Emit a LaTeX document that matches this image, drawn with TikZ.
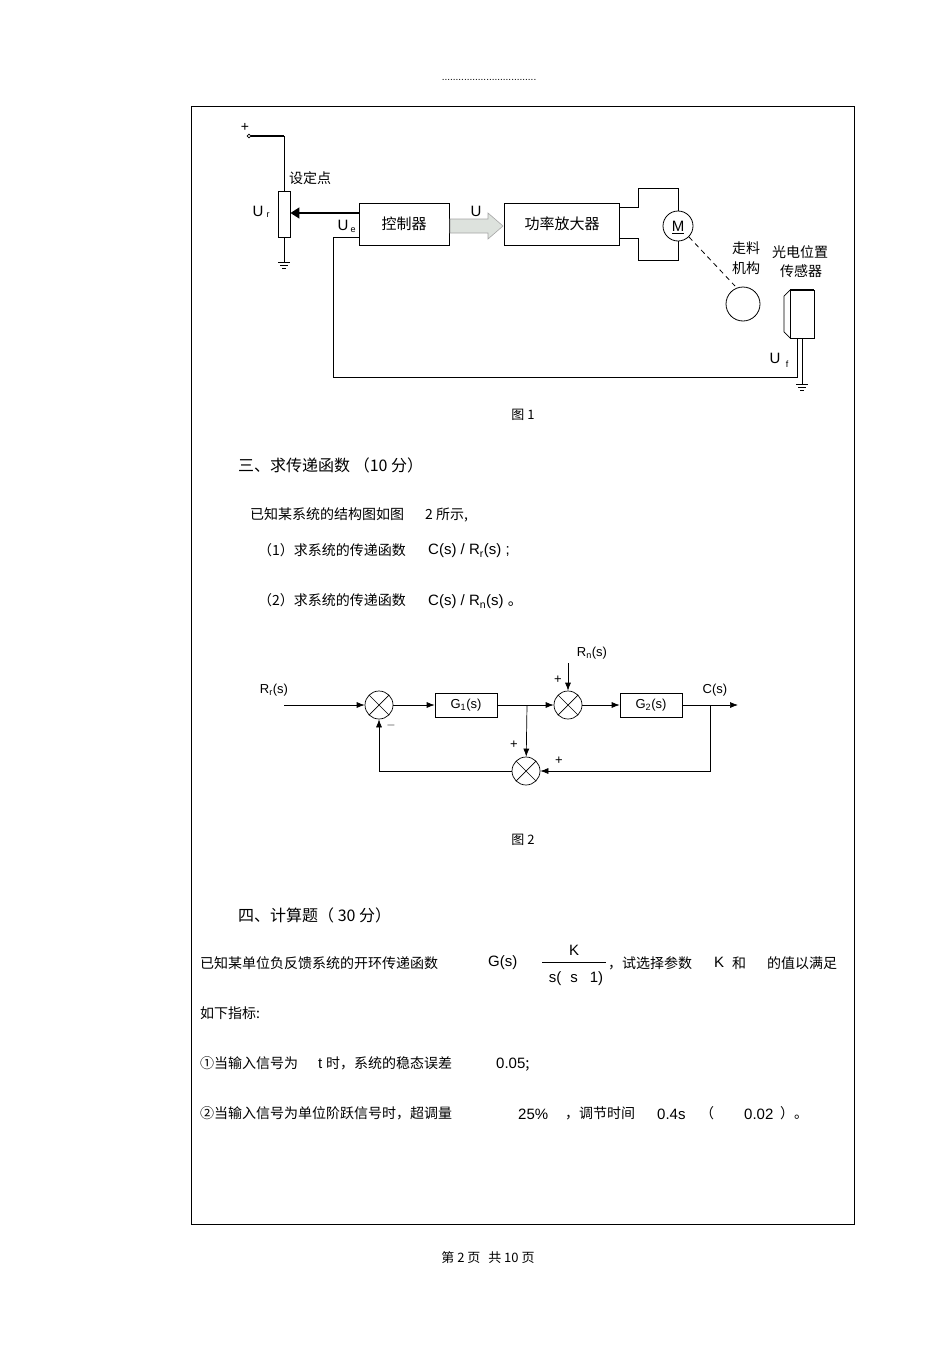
\documentclass[tikz,border=0pt]{standalone}
\usepackage{fontspec}
\setmainfont{Liberation Sans}
\newfontfamily\cjk{Noto Sans CJK SC}
\usetikzlibrary{arrows.meta,shapes.geometric}
\tikzset{
  blk/.style={draw,line width=0.9pt,minimum width=90pt,minimum height=42pt,font=\cjk\fontsize{15}{15}\selectfont},
  tb/.style={draw,line width=0.7pt,minimum width=62pt,minimum height=24pt,font=\fontsize{13}{13}\selectfont},
  sumj/.style={draw,circle,line width=0.7pt,minimum size=28pt,inner sep=0pt,path picture={\draw (path picture bounding box.north west)--(path picture bounding box.south east) (path picture bounding box.north east)--(path picture bounding box.south west);}},
  ln/.style={line width=0.8pt},
  arr/.style={line width=0.7pt,-{Latex[length=8pt,width=6pt]}},
  cn/.style={font=\cjk\fontsize{14}{14}\selectfont,anchor=west,inner sep=0pt},
  lt/.style={font=\fontsize{15}{15}\selectfont,inner sep=0pt},
  gnd/.style={line width=0.8pt}
}
\begin{document}
\begin{tikzpicture}[x=1pt,y=-1pt]
\useasboundingbox[fill=white] (0,0) rectangle (950,1346);
\node[font=\fontsize{10}{10}\selectfont] (dots) at (489,80) {..................................};
\draw[line width=0.8pt] (191,106) rectangle (854,1224);
% figure 1
\coordinate (plus) at (249,136);
\node[font=\fontsize{14}{14}\selectfont] (pl) at (245,127) {+};
\draw[line width=0.7pt] (plus) circle (1.8);
\draw[line width=1.2pt] (251,136) -- (284,136);
\draw[ln] (284,136) -- (284,192);
\node[draw,line width=0.9pt,minimum width=12pt,minimum height=46pt,inner sep=0pt] (pot) at (284,214) {};
\draw[ln] (pot.south) -- (284,262);
\draw[gnd] (278,262)--(290,262) (280,265)--(288,265) (282,268)--(286,268);
\node[cn] (sd) at (289,178) {设定点};
\node[lt] (ur) at (258,211) {U};
\node[font=\fontsize{9}{9}\selectfont] at (268,215) {r};
\node[blk] (ctl) at (404,224) {控制器};
\node[blk,minimum width=115pt] (amp) at (562,224) {功率放大器};
\draw[line width=1.6pt,-{Triangle[length=9pt,width=11pt]}] (ctl.west|-0,213) -- (pot.east|-0,213);
\node[lt] (ue) at (343,225) {U};
\node[font=\fontsize{9}{9}\selectfont] at (353,230) {e};
\node[lt] (u) at (476,211) {U};
\draw[draw=gray!70,fill=green!8!gray!25,line width=0.6pt] (450,219)--(488,219)--(488,213)--(503,226)--(488,239)--(488,233)--(450,233)--cycle;
\draw[ln] (amp.east|-0,207) -- (638,207) -- (638,188) -- (678,188) -- (678,211);
\draw[ln] (amp.east|-0,238) -- (638,238) -- (638,260) -- (678,260) -- (678,241);
\node[draw,circle,line width=0.8pt,minimum size=30pt,inner sep=0pt,font=\fontsize{15}{15}\selectfont] (mot) at (678,226) {M};
\draw[line width=0.7pt] (672,233)--(684,233);
\node[draw,circle,line width=0.8pt,minimum size=34pt] (wheel) at (743,304) {};
\draw[ln,dashed,dash pattern=on 5pt off 4pt] (mot.south east) -- (735,286);
\node[cn] (zl) at (732,248) {走料};
\node[cn] (jg) at (732,268) {机构};
\node[cn] (gd) at (772,252) {光电位置};
\node[cn] (cg) at (780,271) {传感器};
\draw[line width=0.8pt] (790,290) rectangle (814,338);
\draw[line width=1.6pt] (790,290)--(814,290);
\draw[line width=0.7pt] (790,290)--(784,296)--(784,332)--(790,338);
\draw[ln] (802,338) -- (802,384);
\draw[gnd] (796,384)--(808,384) (798,387)--(806,387) (800,390)--(804,390);
\draw[ln] (ctl.west|-0,237) -- (333,237) -- (333,377) -- (797,377) -- (797,338);
\node[lt] (uf) at (775,358) {U};
\node[font=\fontsize{9}{9}\selectfont] at (787,364) {f};
\node[font=\cjk\fontsize{13}{13}\selectfont] (f1) at (523,415) {图 1};
% section 3
\node[cn,font=\cjk\fontsize{16}{16}\selectfont] (s3) at (238,465) {三、求传递函数 （10 分）};
\node[cn] at (250,515) {已知某系统的结构图如图\hspace{1.5em}2 所示,};
\node[cn] at (258,550) {（1）求系统的传递函数};
\node[lt,anchor=west] at (428,551) {C(s) / R\textsubscript{r}(s) ;};
\node[cn] at (258,600) {（2）求系统的传递函数};
\node[lt,anchor=west] at (428,602) {C(s) / R\textsubscript{n}(s) \cjk 。};
% figure 2
\node[sumj] (s1) at (379,705) {};
\node[tb] (g1) at (466,705) {G\textsubscript{1}(s)};
\node[sumj] (s2) at (568,705) {};
\node[tb] (g2) at (651,705) {G\textsubscript{2}(s)};
\node[sumj] (s3j) at (526,771) {};
\coordinate (rin) at (284,705);
\coordinate (cout) at (738,705);
\coordinate (rn) at (568,663);
\coordinate (br1) at (527,705);
\coordinate (br2) at (710,705);
\node[font=\fontsize{13}{13}\selectfont] at (274,690) {R\textsubscript{r}(s)};
\node[font=\fontsize{13}{13}\selectfont] at (592,653) {R\textsubscript{n}(s)};
\node[font=\fontsize{13}{13}\selectfont] at (715,690) {C(s)};
\draw[arr] (rin) -- (s1);
\draw[arr] (s1) -- (g1);
\draw[arr] (g1) -- (s2);
\draw[arr] (rn) -- (s2);
\draw[arr] (s2) -- (g2);
\draw[arr] (g2) -- (cout);
\draw[arr] (br1) -- (s3j);
\draw[arr] (br2) |- (s3j);
\draw[arr] (s3j) -| (s1);
\node[font=\fontsize{13}{13}\selectfont] at (391,725) {$-$};
\node[font=\fontsize{13}{13}\selectfont] at (558,680) {+};
\node[font=\fontsize{13}{13}\selectfont] at (514,745) {+};
\node[font=\fontsize{13}{13}\selectfont] at (559,761) {+};
\node[font=\cjk\fontsize{13}{13}\selectfont] (f2) at (523,840) {图 2};
% section 4
\node[cn,font=\cjk\fontsize{16}{16}\selectfont] (s4) at (238,915) {四、计算题（ 30 分）};
\node[cn] at (200,963) {已知某单位负反馈系统的开环传递函数};
\node[lt,anchor=west] at (488,963) {G(s)};
\node[lt] at (574,950) {K};
\draw[line width=0.6pt] (542,962) -- (606,962);
\node[lt] at (576,979) {s(\hspace{0.6em}s\hspace{0.8em}1)};
\node[cn] at (608,963) {，试选择参数};
\node[lt,anchor=west] at (714,962) {K};
\node[cn] at (732,963) {和\hspace{1.5em}的值以满足};
\node[cn] at (200,1013) {如下指标:};
\node[cn] at (200,1063) {①当输入信号为};
\node[lt,anchor=west] at (318,1064) {t};
\node[cn] at (326,1063) {时，系统的稳态误差};
\node[lt,anchor=west] at (496,1065) {0.05\cjk ;};
\node[cn] at (200,1113) {②当输入信号为单位阶跃信号时，超调量};
\node[lt,anchor=west] at (518,1114) {25\%};
\node[cn] at (565,1113) {，调节时间};
\node[lt,anchor=west] at (657,1114) {0.4s};
\node[cn] at (700,1113) {（};
\node[lt,anchor=west] at (744,1114) {0.02};
\node[cn] at (780,1113) {）。};
\node[font=\cjk\fontsize{13}{13}\selectfont] (pg) at (488,1258) {第 2 页\hspace{0.6em}共 10 页};
\end{tikzpicture}
\end{document}
